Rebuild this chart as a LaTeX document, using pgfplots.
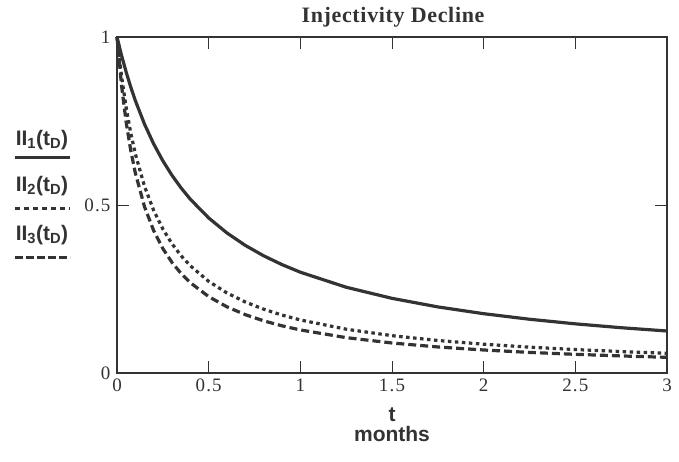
\documentclass[border=0pt]{standalone}
\usepackage{fontspec}
\setmainfont{Liberation Serif}
\setsansfont{Liberation Sans}
\usepackage{pgfplots}
\pgfplotsset{compat=1.18}
\definecolor{ink}{HTML}{333333}
\begin{document}
\begin{tikzpicture}[x=1pt,y=1pt]
\useasboundingbox (-117,-88) rectangle (562,373);
\begin{axis}[
  at={(0,0)}, anchor=south west,
  scale only axis, width=550pt, height=336pt,
  xmin=0, xmax=3, ymin=0, ymax=1,
  xtick={0,0.5,1,1.5,2,2.5,3}, xticklabels={0,0.5,1,1.5,2,2.5,3},
  ytick={0,0.5,1}, yticklabels={0,0.5,1},
  tick align=inside, tick pos=both,
  major tick length=12pt,
  every tick/.style={ink, line width=0.8pt},
  axis line style={ink, line width=1.3pt},
  every tick label/.append style={font=\fontsize{19}{19}\selectfont\addfontfeature{LetterSpace=6}, text=ink},
  xticklabel style={yshift=-2pt},
  yticklabel style={xshift=-3pt},
  clip=false,
]
\addplot[ink, line width=3.2pt] coordinates {
(0,1) (0.025,0.9449) (0.05,0.8955) (0.075,0.8511) (0.1,0.8108) (0.15,0.7407)
(0.2,0.6818) (0.25,0.6316) (0.3,0.5882) (0.35,0.5505) (0.4,0.5172) (0.5,0.4615)
(0.6,0.4167) (0.7,0.3797) (0.8,0.3488) (0.9,0.3226) (1.0,0.3) (1.25,0.2553)
(1.5,0.2222) (1.75,0.1967) (2,0.1765) (2.25,0.16) (2.5,0.1463) (2.75,0.1348) (3,0.125)};
\addplot[ink, line width=3.2pt, dash pattern=on 3.5pt off 3.5pt] coordinates {
(0,1) (0.025,0.8824) (0.05,0.7895) (0.075,0.7143) (0.1,0.6522) (0.15,0.5556)
(0.2,0.4839) (0.25,0.4286) (0.3,0.3846) (0.35,0.3488) (0.4,0.3191) (0.5,0.2727)
(0.6,0.2381) (0.7,0.2113) (0.8,0.1899) (0.9,0.1724) (1.0,0.1579) (1.25,0.1304)
(1.5,0.1111) (1.75,0.0968) (2,0.0857) (2.25,0.0769) (2.5,0.0698) (2.75,0.0638) (3,0.0588)};
\addplot[ink, line width=3.2pt, dash pattern=on 8pt off 4pt] coordinates {
(0,1) (0.025,0.8547) (0.05,0.7463) (0.075,0.6623) (0.1,0.5952) (0.15,0.4950)
(0.2,0.4237) (0.25,0.3704) (0.3,0.3289) (0.35,0.2959) (0.4,0.2688) (0.5,0.2273)
(0.6,0.1969) (0.7,0.1736) (0.8,0.1553) (0.9,0.1404) (1.0,0.1282) (1.25,0.1053)
(1.5,0.0893) (1.75,0.0775) (2,0.0685) (2.25,0.0613) (2.5,0.0556) (2.75,0.0508) (3,0.0467)};
\end{axis}
% title
\node[anchor=base, text=ink, font={\fontsize{22}{22}\selectfont\bfseries\addfontfeature{LetterSpace=3}}] at (276,350) {Injectivity Decline};
% x label
\node[anchor=center, text=ink, font={\fontsize{21}{21}\sffamily\bfseries}] at (275,-42) {t};
\node[anchor=center, text=ink, font={\fontsize{21}{21}\sffamily\bfseries}] at (275,-61) {months};
% legend
\node[anchor=center, text=ink, font={\fontsize{21}{21}\sffamily\bfseries}] at (-75,233) {II\textsubscript{1}(t\textsubscript{D})};
\draw[ink, line width=3pt] (-102,215) -- (-47,215);
\node[anchor=center, text=ink, font={\fontsize{21}{21}\sffamily\bfseries}] at (-75,187) {II\textsubscript{2}(t\textsubscript{D})};
\draw[ink, line width=3pt, dash pattern=on 5pt off 4pt] (-102,165) -- (-47,165);
\node[anchor=center, text=ink, font={\fontsize{21}{21}\sffamily\bfseries}] at (-75,138) {II\textsubscript{3}(t\textsubscript{D})};
\draw[ink, line width=3pt, dash pattern=on 8pt off 3pt] (-102,116) -- (-47,116);
\end{tikzpicture}
\end{document}
